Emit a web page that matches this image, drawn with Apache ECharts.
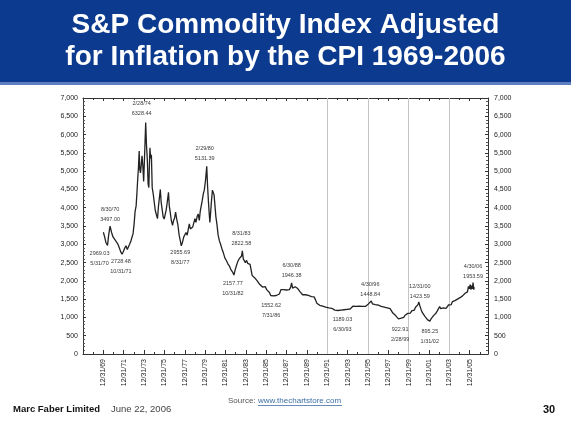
<!DOCTYPE html>
<html>
<head>
<meta charset="utf-8">
<script src="https://cdn.jsdelivr.net/npm/echarts@6/dist/echarts.min.js"></script>
<style>
html,body{margin:0;padding:0;background:#fff;}
#c{width:571px;height:428px;}
</style>
</head>
<body>
<div id="c"></div>
<script>
// ---- DATA ----
const years = [
1970.00,1970.12,1970.25,1970.41,1970.52,1970.66,1970.80,1970.95,1971.10,1971.25,1971.40,1971.55,1971.70,1971.83,1971.95,
1972.10,1972.22,1972.35,1972.47,1972.58,1972.70,1972.82,1972.92,1973.02,1973.12,1973.22,1973.30,1973.38,1973.45,1973.52,
1973.58,1973.65,1973.72,1973.80,1973.88,1973.96,1974.05,1974.16,1974.24,1974.32,1974.40,1974.47,1974.53,1974.58,1974.64,
1974.72,1974.80,1974.90,1975.00,1975.10,1975.22,1975.32,1975.42,1975.52,1975.60,1975.68,1975.78,1975.88,1975.98,1976.08,
1976.18,1976.28,1976.40,1976.48,1976.56,1976.68,1976.80,1976.90,1977.00,1977.10,1977.20,1977.32,1977.45,1977.56,1977.66,
1977.78,1977.90,1978.00,1978.12,1978.24,1978.35,1978.45,1978.55,1978.66,1978.78,1978.90,1979.00,1979.10,1979.22,1979.32,
1979.43,1979.52,1979.62,1979.72,1979.82,1979.92,1980.04,1980.16,1980.24,1980.32,1980.40,1980.47,1980.55,1980.63,1980.72,
1980.80,1980.88,1980.97,1981.06,1981.16,1981.28,1981.40,1981.52,1981.65,1981.80,1981.95,1982.10,1982.25,1982.40,1982.55,
1982.70,1982.83,1982.95,1983.08,1983.20,1983.34,1983.47,1983.58,1983.66,1983.75,1983.85,1983.96,1984.08,1984.18,1984.30,
1984.42,1984.52,1984.62,1984.75,1984.88,1985.00,1985.12,1985.25,1985.38,1985.50,1985.64,1985.78,1985.92,1986.05,1986.18,
1986.32,1986.45,1986.58,1986.70,1986.85,1987.00,1987.15,1987.30,1987.45,1987.58,1987.72,1987.86,1988.00,1988.14,1988.28,
1988.40,1988.50,1988.60,1988.72,1988.85,1988.98,1989.10,1989.22,1989.34,1989.46,1989.58,1989.72,1989.86,1990.00,1990.15,
1990.30,1990.45,1990.60,1990.72,1990.85,1990.98,1991.12,1991.26,1991.40,1991.55,1991.70,1991.85,1992.00,1992.15,1992.30,
1992.45,1992.60,1992.75,1992.90,1993.05,1993.20,1993.35,1993.50,1993.65,1993.80,1993.95,1994.10,1994.25,1994.40,1994.55,
1994.70,1994.85,1995.00,1995.15,1995.30,1995.45,1995.60,1995.75,1995.90,1996.05,1996.18,1996.33,1996.45,1996.58,1996.72,
1996.85,1997.00,1997.15,1997.30,1997.45,1997.60,1997.75,1997.90,1998.05,1998.18,1998.32,1998.45,1998.58,1998.72,1998.85,
1999.00,1999.16,1999.28,1999.40,1999.52,1999.65,1999.78,1999.92,2000.05,2000.18,2000.30,2000.42,2000.55,2000.68,2000.82,
2000.92,2001.00,2001.10,2001.22,2001.35,2001.48,2001.60,2001.72,2001.85,2001.95,2002.08,2002.20,2002.32,2002.45,2002.58,
2002.70,2002.82,2002.95,2003.05,2003.15,2003.28,2003.40,2003.55,2003.68,2003.80,2003.92,2004.05,2004.18,2004.30,2004.42,
2004.55,2004.68,2004.80,2004.92,2005.05,2005.18,2005.30,2005.42,2005.55,2005.68,2005.78,2005.88,2005.96,2006.05,2006.12,
2006.20,2006.27,2006.33,2006.40,2006.45
];
const values = [
3330,3210,3050,2969.03,3250,3497.00,3330,3200,3140,3080,3020,2920,2800,2728.48,2790,
2900,2960,2860,2900,3000,3080,3200,3290,3550,3900,4050,4400,4800,5100,5550,
5050,4950,5150,5420,5150,4720,5400,6328.44,5700,5320,4650,4550,5200,5640,5350,
5450,4550,4380,4150,3930,3800,3700,4050,4300,4500,4150,3950,3750,3690,3820,
3950,4150,4420,4050,3900,3650,3520,3650,3720,3880,3700,3540,3250,3100,2955.69,
3060,3200,3230,3320,3250,3420,3560,3420,3380,3470,3600,3700,3600,3760,3830,
3650,3900,4050,4200,4380,4480,4750,5131.39,4600,4200,3850,3600,3900,4200,4480,
4500,4350,4050,3750,3550,3250,3100,3000,2880,2760,2620,2550,2460,2400,2300,
2240,2157.77,2300,2420,2520,2600,2630,2680,2822.58,2600,2550,2500,2560,2480,2520,
2450,2300,2150,2100,2080,2050,2000,1960,1900,1860,1830,1880,1840,1760,1720,
1680,1600,1552.62,1590,1610,1600,1630,1640,1760,1790,1760,1780,1750,1790,1760,
1820,1946.38,1800,1780,1840,1800,1790,1760,1700,1650,1620,1610,1620,1580,1600,
1590,1570,1600,1560,1480,1390,1380,1330,1300,1310,1290,1280,1300,1260,1240,
1250,1220,1200,1210,1190,1210,1200,1189.03,1210,1190,1220,1200,1230,1280,1310,
1320,1300,1290,1310,1280,1300,1320,1300,1330,1370,1400,1448.84,1370,1340,1350,
1320,1340,1320,1300,1310,1280,1290,1260,1300,1240,1190,1120,1080,1050,1010,
960,922.91,980,1020,1000,1060,1080,1110,1140,1120,1180,1210,1200,1280,1300,
1350,1423.59,1320,1220,1130,1080,1030,980,940,910,895.25,960,1000,1050,1060,
1120,1180,1220,1300,1240,1220,1260,1230,1250,1300,1340,1370,1350,1430,1400,
1460,1420,1500,1470,1540,1500,1590,1560,1660,1640,1700,1850,1780,1900,1760,
1870,1780,1953.59,1760,1830
];
// annotated highs and lows
const annDates  = ['5/31/70','8/30/70','10/31/71','2/28/74','8/31/77','2/29/80','10/31/82','8/31/83','7/31/86','6/30/88','6/30/93','4/30/96','2/28/99','12/31/00','1/31/02','4/30/06'];
const annYears  = [1970.41,1970.66,1971.83,1974.16,1977.66,1980.16,1982.83,1983.66,1986.58,1988.50,1993.50,1996.33,1999.16,2001.00,2002.08,2006.33];
const annValues = [2969.03,3497.00,2728.48,6328.44,2955.69,5131.39,2157.77,2822.58,1552.62,1946.38,1189.03,1448.84,922.91,1423.59,895.25,1953.59];
const annAbove  = [false,true,false,true,false,true,false,true,false,true,false,true,false,true,false,true];
const gridYears = [1992,1996,2000,2004];
const yTicks = [0,500,1000,1500,2000,2500,3000,3500,4000,4500,5000,5500,6000,6500,7000];

// ---- LAYOUT / STYLE ----
const annOffsets = [[-8,13],[0,-12],[-1,12],[-4,-14],[-1,12],[-2,-13],[-1,13],[-1,-12],[-1,13],[0,-12],[0,14],[-1,-12],[0,14],[1,-10],[0,15],[0,-11]];
const FONT = "'Liberation Sans', Arial, sans-serif";

const chart = echarts.init(document.getElementById('c'), null, {renderer:'canvas'});
const fmtY = v => Number(v).toLocaleString('en-US');
const fmtX = v => {
  const r = Math.round(v);
  if (Math.abs(v - r) > 1e-6 || r < 1970 || r > 2006) return '';
  return '12/31/' + String((r - 1) % 100).padStart(2, '0');
};
const axisLineStyle = {color:'#333', width:1};

const markData = annDates.map((d,i) => ({
  coord:[annYears[i], annValues[i]],
  text: annAbove[i] ? (d + '\n' + annValues[i].toFixed(2)) : (annValues[i].toFixed(2) + '\n' + d),
  label:{offset: annOffsets[i]}
}));

chart.setOption({
  animation:false,
  backgroundColor:'#ffffff',
  textStyle:{fontFamily:FONT},
  grid:{left:83, right:83, top:98, bottom:74, containLabel:false},
  xAxis:[{
    type:'value', min:1968, max:2007.8, interval:2, position:'bottom',
    axisLine:{show:true, onZero:false, lineStyle:axisLineStyle},
    axisTick:{show:true, inside:true, length:4, lineStyle:{color:'#333'}},
    minorTick:{show:true, splitNumber:2, length:2, lineStyle:{color:'#333'}},
    axisLabel:{show:true, rotate:90, margin:5, fontSize:7, color:'#222', fontFamily:FONT, formatter:fmtX, showMinLabel:true, showMaxLabel:true},
    splitLine:{show:false}
  },{
    type:'value', min:1968, max:2007.8, interval:2, position:'top',
    axisLine:{show:true, onZero:false, lineStyle:axisLineStyle},
    axisTick:{show:true, inside:true, length:3, lineStyle:{color:'#333'}},
    minorTick:{show:true, splitNumber:2, length:2, lineStyle:{color:'#333'}},
    axisLabel:{show:false}, splitLine:{show:false}
  }],
  yAxis:[{
    type:'value', min:yTicks[0], max:yTicks[yTicks.length-1], interval:yTicks[1]-yTicks[0], position:'left',
    axisLine:{show:true, lineStyle:axisLineStyle},
    axisTick:{show:true, inside:true, length:3, lineStyle:{color:'#333'}},
    minorTick:{show:true, splitNumber:5, length:2, lineStyle:{color:'#555'}},
    axisLabel:{fontSize:7, color:'#222', margin:5, fontFamily:FONT, formatter:fmtY},
    splitLine:{show:false}
  },{
    type:'value', min:yTicks[0], max:yTicks[yTicks.length-1], interval:yTicks[1]-yTicks[0], position:'right',
    axisLine:{show:true, lineStyle:axisLineStyle},
    axisTick:{show:true, inside:true, length:3, lineStyle:{color:'#333'}},
    minorTick:{show:true, splitNumber:5, length:2, lineStyle:{color:'#555'}},
    axisLabel:{fontSize:7, color:'#222', margin:6, fontFamily:FONT, formatter:fmtY},
    splitLine:{show:false}
  }],
  series:[{
    type:'line',
    xAxisIndex:0, yAxisIndex:0,
    data: years.map((y,i) => [y, values[i]]),
    symbol:'none',
    lineStyle:{color:'#222', width:1.3},
    z:5,
    markLine:{
      silent:true, symbol:['none','none'],
      lineStyle:{color:'#c4c4c4', width:1, type:'solid'},
      label:{show:false},
      data: gridYears.map(x => ({xAxis:x}))
    },
    markPoint:{
      symbol:'circle', symbolSize:0, silent:true,
      label:{show:true, position:'inside', fontSize:5.5, lineHeight:10, color:'#3a3a3a', fontFamily:FONT,
        formatter: p => p.data.text},
      data: markData
    }
  }],
  graphic:[
    {type:'rect', shape:{x:0, y:0, width:571, height:82}, style:{fill:'#0b3a8e'}, z:1},
    {type:'rect', shape:{x:0, y:82, width:571, height:3}, style:{fill:'#5d7fc2'}, z:1},
    {type:'text', x:285.5, y:25, z:2, style:{text:'S&P Commodity Index Adjusted', fill:'#ffffff', font:'bold 28px ' + FONT, textAlign:'center', textVerticalAlign:'middle'}},
    {type:'text', x:285.5, y:57, z:2, style:{text:'for Inflation by the CPI 1969-2006', fill:'#ffffff', font:'bold 28px ' + FONT, textAlign:'center', textVerticalAlign:'middle'}},
    {type:'text', x:13, y:409.5, style:{text:'Marc Faber Limited', fill:'#111', font:'bold 9.5px ' + FONT, textVerticalAlign:'middle'}},
    {type:'text', x:111, y:409.5, style:{text:'June 22, 2006', fill:'#444', font:'9.5px ' + FONT, textVerticalAlign:'middle'}},
    {type:'text', x:228, y:401, style:{text:'Source: ', fill:'#555', font:'8px ' + FONT, textVerticalAlign:'middle'}},
    {type:'text', x:258, y:401, style:{text:'www.thechartstore.com', fill:'#3d6fa8', font:'8px ' + FONT, textVerticalAlign:'middle'}},
    {type:'line', shape:{x1:258, y1:405.5, x2:342, y2:405.5}, style:{stroke:'#3d6fa8', lineWidth:0.8}},
    {type:'text', x:549, y:410, style:{text:'30', fill:'#111', font:'bold 11px ' + FONT, textAlign:'center', textVerticalAlign:'middle'}}
  ]
});
</script>
</body>
</html>
